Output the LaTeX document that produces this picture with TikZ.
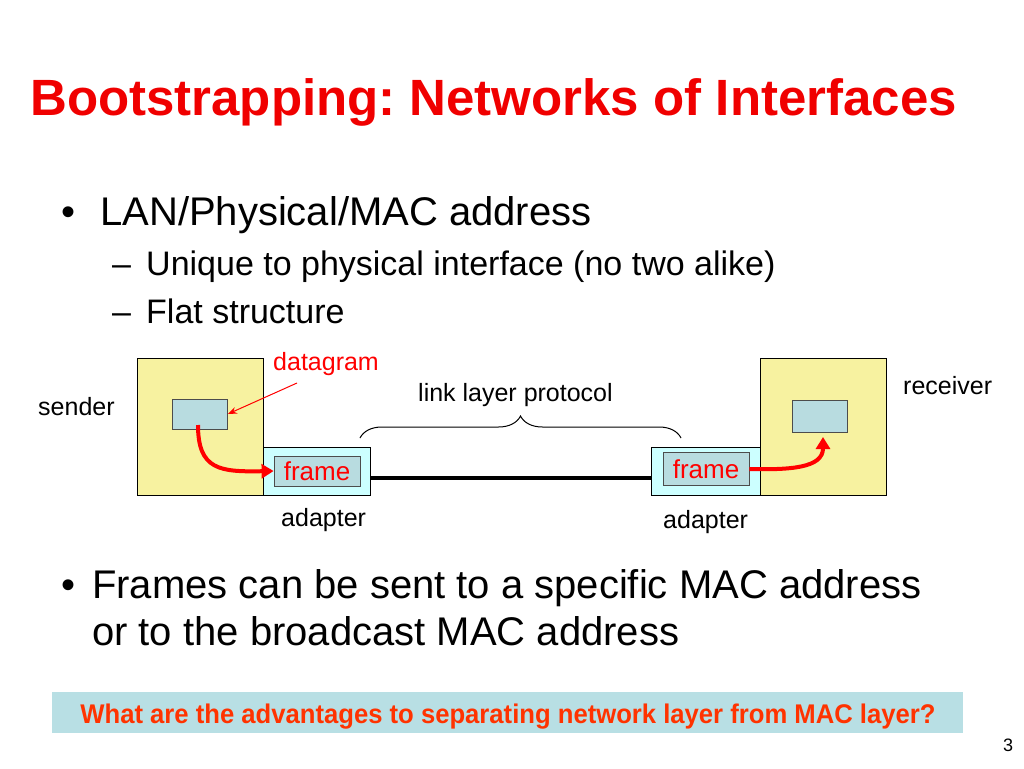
\documentclass[tikz,border=0pt]{standalone}
\usepackage{fontspec}
\setmainfont{Liberation Sans}
\usetikzlibrary{arrows.meta,decorations.pathreplacing}
\definecolor{ttlred}{RGB}{240,0,0}
\definecolor{hostyel}{RGB}{247,242,160}
\definecolor{adapcyan}{RGB}{204,255,255}
\definecolor{boxblue}{RGB}{184,220,224}
\definecolor{qred}{RGB}{255,51,0}
\definecolor{qbg}{RGB}{184,223,228}
\tikzset{
  host/.style={draw=black,fill=hostyel,line width=0.8pt},
  adap/.style={draw=black,fill=adapcyan,line width=0.8pt},
  inner/.style={draw=black!70,fill=boxblue,line width=0.8pt},
  lbl/.style={inner sep=0pt,anchor=base west,font=\fontsize{25}{29}\selectfont},
  body/.style={inner sep=0pt,anchor=base west},
  redarrow/.style={draw=red,line width=4pt,-{Triangle[length=12pt,width=14pt]}},
}
\frenchspacing
\begin{document}
\begin{tikzpicture}[x=1pt,y=-1pt]
\useasboundingbox (0,0) rectangle (1024,768);
% title
\node[body,text=ttlred,font=\fontsize{51}{60}\selectfont\bfseries] (title) at (30,115) {Bootstrapping: Networks of Interfaces};
% bullets
\node[body,font=\fontsize{40}{44}\selectfont] (b1) at (61,225) {\textbullet};
\node[body,font=\fontsize{40}{44}\selectfont] (t1) at (100,225) {LAN/Physical/MAC address};
\node[body,font=\fontsize{34}{38}\selectfont] (d1) at (112,275) {--};
\node[body,font=\fontsize{34}{38}\selectfont] (s1) at (146,275) {Unique to physical interface (no two alike)};
\node[body,font=\fontsize{34}{38}\selectfont] (d2) at (112,323) {--};
\node[body,font=\fontsize{34}{38}\selectfont] (s2) at (146,323) {Flat structure};
% diagram
\draw[host] (137,358) rectangle (263,495);
\draw[adap] (263,447) rectangle (370,495);
\node[inner,minimum width=86pt,minimum height=30pt,inner sep=0pt,text=red,font=\fontsize{26}{30}\selectfont] (f1) at (317,471) {frame};
\node[inner,minimum width=55pt,minimum height=30pt,inner sep=0pt] (dg1) at (200,414) {};
\draw[host] (760,358) rectangle (886,495);
\draw[adap] (651,447) rectangle (760,495);
\node[inner,minimum width=86pt,minimum height=33pt,inner sep=0pt,text=red,font=\fontsize{26}{30}\selectfont] (f2) at (706,469) {frame};
\node[inner,minimum width=55pt,minimum height=32pt,inner sep=0pt] (dg2) at (820,416) {};
\coordinate (linkL) at (370,478);
\coordinate (linkR) at (651,478);
\draw[line width=4pt] (linkL) -- (linkR);
% brace
\coordinate (brL) at (360,438);
\coordinate (brR) at (681,438);
\draw[decorate,decoration={brace,amplitude=22pt},line width=1pt] (brL) -- (brR);
\node[lbl] (llp) at (418,401) {link layer protocol};
% labels
\node[lbl,text=red] (dgl) at (273,370) {datagram};
\coordinate (dgtail) at (297,383);
\draw[red,line width=1pt,-{Stealth[length=9pt,width=7pt]}] (dgtail) -- (dg1.east);
\node[lbl] (snd) at (38,415) {sender};
\node[lbl] (rcv) at (903,394) {receiver};
\node[lbl] (ad1) at (281,526) {adapter};
\node[lbl] (ad2) at (663,528) {adapter};
% red arrows
\coordinate (a1s) at (198,425);
\draw[redarrow] (a1s) .. controls (198,470) and (220,472) .. (f1.west);
\coordinate (a2e) at (823,437);
\draw[redarrow] (f2.east) .. controls (790,470) and (823,468) .. (a2e);
% second bullet
\node[body,font=\fontsize{40}{44}\selectfont] (b2) at (61,598) {\textbullet};
\node[body,font=\fontsize{40}{44}\selectfont] (t2) at (92,598) {Frames can be sent to a specific MAC address};
\node[body,font=\fontsize{40}{44}\selectfont] (t3) at (92,645) {or to the broadcast MAC address};
% question box
\node[fill=qbg,minimum width=911pt,minimum height=41pt,inner sep=0pt] (qbox) at (507.5,712.5) {};
\node[inner sep=0pt,anchor=base,text=qred,font=\fontsize{27}{30}\selectfont\bfseries,xscale=0.95] (q) at (508,723) {What are the advantages to separating network layer from MAC layer?};
\node[body,font=\fontsize{18}{20}\selectfont] (pg) at (1003,751) {3};
\end{tikzpicture}
\end{document}
